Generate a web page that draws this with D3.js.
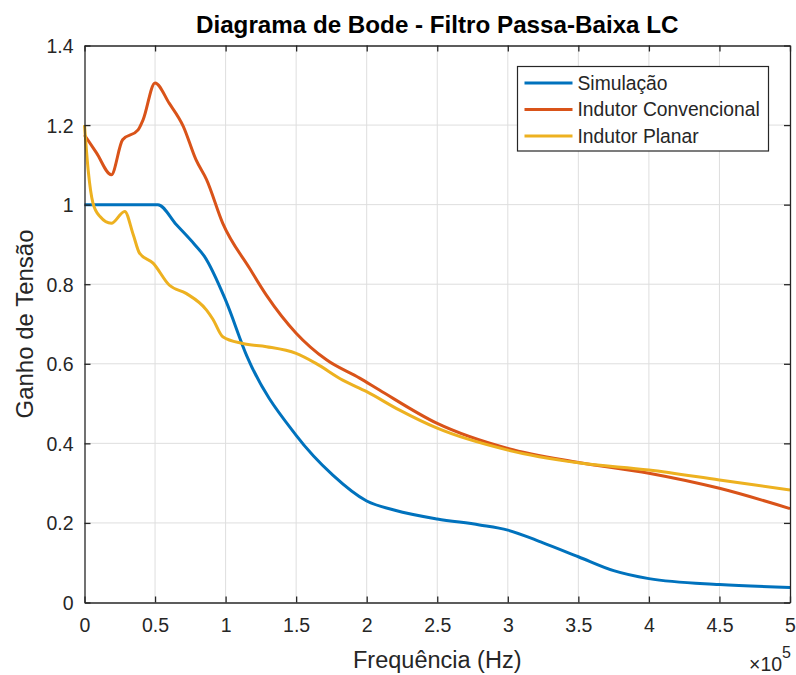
<!DOCTYPE html>
<html>
<head>
<meta charset="utf-8">
<script src="https://cdn.jsdelivr.net/npm/d3@7"></script>
<style>
  body { margin: 0; background: #fff; }
  svg { font-family: "Liberation Sans", Arial, sans-serif; }
</style>
</head>
<body>
<svg id="graph" width="796" height="675"></svg>
<script>
// frequencies in units of 1e5 Hz
const sim_freq = [0, 0.5, 0.52, 0.65, 0.78, 0.85, 1.0, 1.15, 1.5, 1.76, 2.0, 2.2, 2.5, 2.8, 3.0, 3.25, 3.5, 3.75, 4.0, 4.5, 5.0]
const sim_gain = [1.0, 1.0, 1.0, 0.95, 0.90, 0.87, 0.76, 0.62, 0.42, 0.32, 0.255, 0.232, 0.21, 0.195, 0.182, 0.15, 0.115, 0.08, 0.06, 0.045, 0.038]

const conv_freq = [0, 0.085, 0.19, 0.27, 0.38, 0.415, 0.5, 0.6, 0.7, 0.79, 0.865, 0.98, 1.17, 1.29, 1.5, 1.715, 1.95, 2.09, 2.5, 3.0, 3.5, 4.0, 4.5, 5.0]
const conv_gain = [1.175, 1.13, 1.075, 1.163, 1.188, 1.213, 1.306, 1.255, 1.197, 1.113, 1.063, 0.953, 0.84, 0.772, 0.677, 0.61, 0.564, 0.534, 0.45, 0.387, 0.352, 0.325, 0.287, 0.236]

const plan_freq = [0, 0.026, 0.06, 0.11, 0.19, 0.285, 0.345, 0.39, 0.486, 0.6, 0.72, 0.865, 0.91, 0.98, 1.12, 1.29, 1.5, 1.64, 1.83, 2.0, 2.23, 2.5, 3.0, 3.5, 4.0, 4.5, 5.0]
const plan_gain = [1.2, 1.087, 1.004, 0.97, 0.953, 0.983, 0.925, 0.878, 0.853, 0.798, 0.777, 0.735, 0.712, 0.668, 0.651, 0.643, 0.626, 0.601, 0.559, 0.53, 0.484, 0.438, 0.383, 0.351, 0.333, 0.308, 0.283]

const series_names = ["Simulação", "Indutor Convencional", "Indutor Planar"]
const colors = ["#0072BD", "#D95319", "#EDB120"]

const x_ticks = [0, 0.5, 1, 1.5, 2, 2.5, 3, 3.5, 4, 4.5, 5]
const y_ticks = [0, 0.2, 0.4, 0.6, 0.8, 1, 1.2, 1.4]

const marginLeft = 84.5
const marginRight = 6
const marginTop = 45.5
const marginBottom = 72.5
const width = 796
const height = 675
const axis_color = "#262626"
const tick_font = "19.5px"

const svg = d3.select("#graph")

const x = d3.scaleLinear().domain([0, 5]).range([marginLeft, width - marginRight])
const y = d3.scaleLinear().domain([0, 1.4]).range([height - marginBottom, marginTop])

// grid
svg.append("g")
  .selectAll("line")
  .data(x_ticks.slice(1, -1))
  .join("line")
  .attr("x1", d => x(d)).attr("x2", d => x(d))
  .attr("y1", y(0)).attr("y2", y(1.4))
  .attr("stroke", "#dedede").attr("stroke-width", 1)

svg.append("g")
  .selectAll("line")
  .data(y_ticks.slice(1, -1))
  .join("line")
  .attr("x1", x(0)).attr("x2", x(5))
  .attr("y1", d => y(d)).attr("y2", d => y(d))
  .attr("stroke", "#dedede").attr("stroke-width", 1)

// curves
const line = d3.line()
  .x(d => x(d[0]))
  .y(d => y(d[1]))
  .curve(d3.curveMonotoneX)

const series = [
  d3.zip(sim_freq, sim_gain),
  d3.zip(conv_freq, conv_gain),
  d3.zip(plan_freq, plan_gain),
]

series.forEach((s, i) => {
  svg.append("path")
    .datum(s)
    .attr("fill", "none")
    .attr("stroke", colors[i])
    .attr("stroke-width", 3)
    .attr("stroke-linejoin", "round")
    .attr("d", line)
})

// axes (ticks inward, box on)
const fmt = d => d3.format("")(+d.toFixed(1))

const x_axis = svg.append("g")
  .attr("transform", `translate(0,${y(0)})`)
  .call(d3.axisBottom(x).tickValues(x_ticks).tickFormat(fmt).tickSizeInner(-6).tickSizeOuter(0).tickPadding(16))
const y_axis = svg.append("g")
  .attr("transform", `translate(${x(0)},0)`)
  .call(d3.axisLeft(y).tickValues(y_ticks).tickFormat(fmt).tickSizeInner(-6).tickSizeOuter(0).tickPadding(11))
const x_top = svg.append("g")
  .attr("transform", `translate(0,${y(1.4)})`)
  .call(d3.axisTop(x).tickValues(x_ticks).tickFormat("").tickSizeInner(-6).tickSizeOuter(0))
const y_right = svg.append("g")
  .attr("transform", `translate(${x(5)},0)`)
  .call(d3.axisRight(y).tickValues(y_ticks).tickFormat("").tickSizeInner(-6).tickSizeOuter(0))

;[x_axis, y_axis, x_top, y_right].forEach(g => {
  g.selectAll(".domain").attr("stroke", axis_color).attr("stroke-width", 1.3)
  g.selectAll(".tick line").attr("stroke", axis_color).attr("stroke-width", 1.3)
  g.selectAll(".tick text")
    .attr("fill", axis_color)
    .style("font-size", tick_font)
    .style("font-family", "'Liberation Sans', Arial, sans-serif")
})
y_axis.selectAll(".tick text").attr("dy", "0.36em")

// title
svg.append("text")
  .attr("x", (x(0) + x(5)) / 2)
  .attr("y", 33)
  .attr("text-anchor", "middle")
  .attr("font-weight", "bold")
  .attr("font-size", 24.2)
  .attr("fill", "#000")
  .text("Diagrama de Bode - Filtro Passa-Baixa LC")

// axis titles
svg.append("text")
  .attr("x", (x(0) + x(5)) / 2)
  .attr("y", 668)
  .attr("text-anchor", "middle")
  .attr("font-size", 23.5)
  .attr("fill", axis_color)
  .text("Frequência (Hz)")

svg.append("text")
  .attr("transform", `translate(33,${(y(0) + y(1.4)) / 2}) rotate(-90)`)
  .attr("text-anchor", "middle")
  .attr("font-size", 24)
  .attr("fill", axis_color)
  .text("Ganho de Tensão")

// exponent
const expo = svg.append("text")
  .attr("x", x(5) + 1)
  .attr("y", 671)
  .attr("text-anchor", "end")
  .attr("font-size", 19.5)
  .attr("fill", axis_color)
expo.append("tspan").text("×10")
expo.append("tspan").attr("dy", -13).attr("font-size", 16).text("5")

// legend
const legend = svg.append("g").attr("transform", "translate(517.5,66.5)")
legend.append("rect")
  .attr("width", 251).attr("height", 84.5)
  .attr("fill", "#fff").attr("stroke", axis_color).attr("stroke-width", 1.2)

series_names.forEach((name, i) => {
  const row_y = 16.5 + i * 26.5
  legend.append("line")
    .attr("x1", 7).attr("x2", 55)
    .attr("y1", row_y).attr("y2", row_y)
    .attr("stroke", colors[i]).attr("stroke-width", 3)
  legend.append("text")
    .attr("x", 60).attr("y", row_y)
    .attr("dy", "0.35em")
    .attr("font-size", 19.3)
    .attr("fill", axis_color)
    .text(name)
})
</script>
</body>
</html>
